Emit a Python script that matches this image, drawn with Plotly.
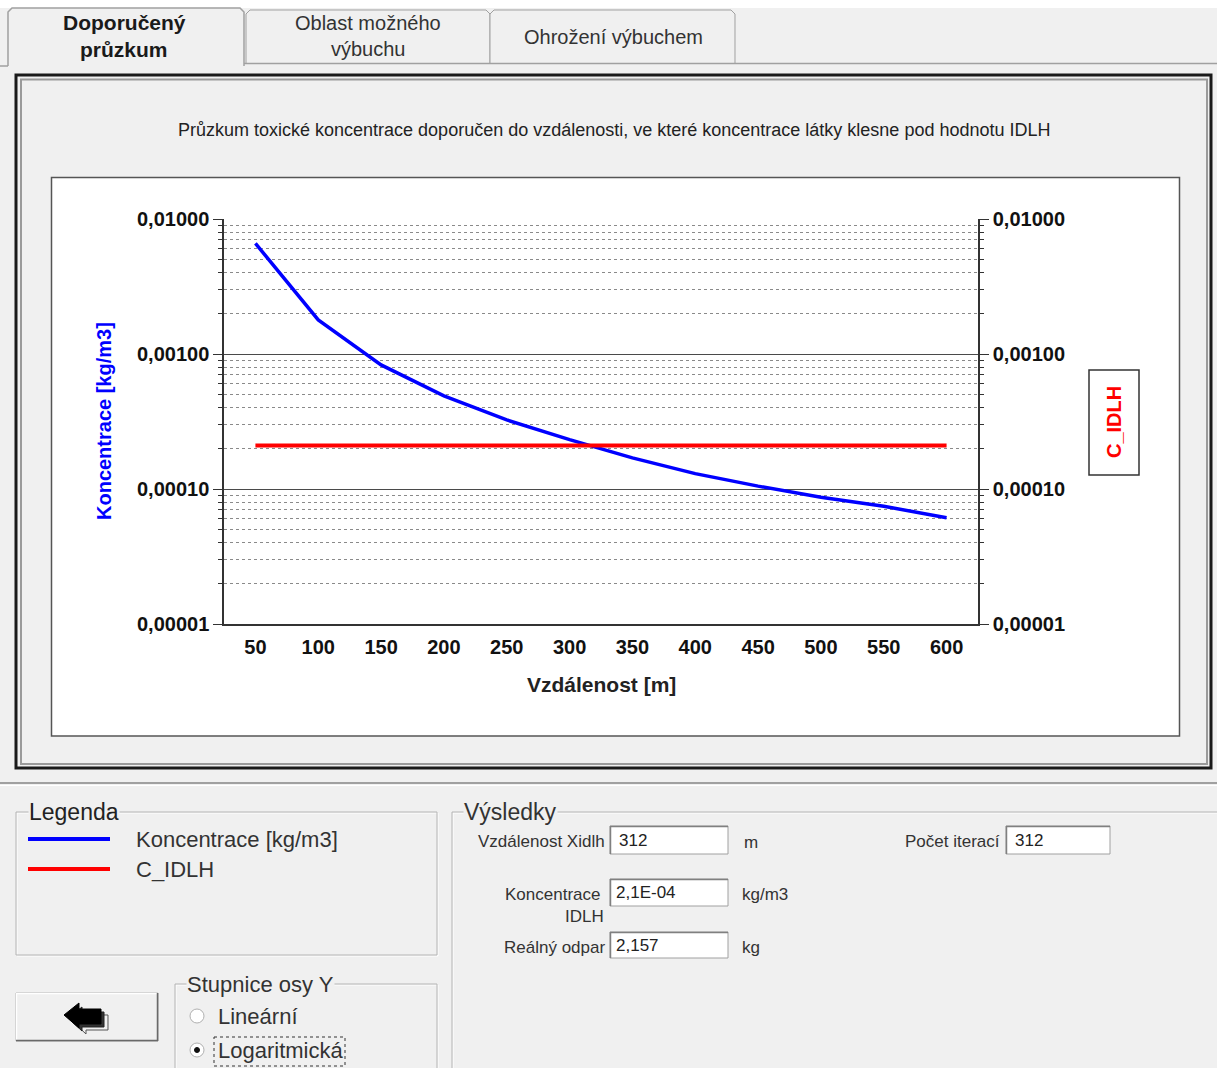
import plotly.graph_objects as go

# ---------------- data ----------------
distances = [50, 100, 150, 200, 250, 300, 350, 400, 450, 500, 550, 600]
koncentrace = [0.0066, 0.00179, 0.00083, 0.00049, 0.000325, 0.000232,
               0.000170, 0.000130, 0.000105, 0.0000870, 0.0000745, 0.0000612]
c_idlh = [0.00021, 0.00021, 0.00021, 0.00021, 0.00021, 0.00021,
          0.00021, 0.00021, 0.00021, 0.00021, 0.00021, 0.00021]
y_tickvals = [0.01, 0.001, 0.0001, 0.00001]
y_ticktext = ["0,01000", "0,00100", "0,00010", "0,00001"]
x_ticktext = [str(d) for d in distances]
minor_vals = [m * 10.0 ** e for e in (-5, -4, -3) for m in (2, 3, 4, 5, 6, 7, 8, 9)]

W, H = 1217, 1068
FONT = "Liberation Sans, Arial, sans-serif"


def X(p):
    return p / W


def Y(p):
    return 1 - p / H


fig = go.Figure()
fig.add_trace(go.Scatter(x=distances, y=koncentrace, mode="lines",
                         name="Koncentrace [kg/m3]",
                         line=dict(color="#0000ff", width=3.5), yaxis="y"))
fig.add_trace(go.Scatter(x=distances, y=c_idlh, mode="lines", name="C_IDLH",
                         line=dict(color="#ff0000", width=4), yaxis="y2"))

yax_common = dict(
    type="log", range=[-5, -2], tickvals=y_tickvals, ticktext=y_ticktext,
    tickfont=dict(family=FONT, size=20, color="#111", weight=700),
    ticks="outside", ticklen=9, tickcolor="#333", tickwidth=1,
    showline=True, linecolor="#333", linewidth=1.5,
    zeroline=False, fixedrange=True,
)

shapes = []
annotations = []


def rect(x0, y0, x1, y1, line="#a0a0a0", width=1, fill=None, dash=None, layer="below"):
    d = dict(type="rect", xref="paper", yref="paper", x0=X(x0), x1=X(x1), y0=Y(y0), y1=Y(y1),
             line=dict(color=line, width=width), layer=layer)
    if dash:
        d["line"]["dash"] = dash
    if fill:
        d["fillcolor"] = fill
    shapes.append(d)


def hline(x0, x1, y, color="#a0a0a0", width=1, layer="below"):
    shapes.append(dict(type="line", xref="paper", yref="paper", x0=X(x0), x1=X(x1), y0=Y(y), y1=Y(y),
                       line=dict(color=color, width=width), layer=layer))


def vline(x, y0, y1, color="#a0a0a0", width=1, layer="below"):
    shapes.append(dict(type="line", xref="paper", yref="paper", x0=X(x), x1=X(x), y0=Y(y0), y1=Y(y1),
                       line=dict(color=color, width=width), layer=layer))


def path(pts, fill=None, line="#a0a0a0", width=1, close=False, layer="below"):
    s = "M " + " L ".join(f"{X(a):.5f},{Y(b):.5f}" for a, b in pts)
    if close:
        s += " Z"
    d = dict(type="path", xref="paper", yref="paper", path=s,
             line=dict(color=line, width=width), layer=layer)
    if fill:
        d["fillcolor"] = fill
    shapes.append(d)


def text(x, y, t, size=22, color="#1a1a1a", bold=False, xanchor="center", yanchor="middle",
         angle=0, bg=None):
    a = dict(xref="paper", yref="paper", x=X(x), y=Y(y), text=t, showarrow=False,
             xanchor=xanchor, yanchor=yanchor, textangle=angle,
             font=dict(family=FONT, size=size, color=color, weight=700 if bold else 400))
    if bg:
        a["bgcolor"] = bg
        a["borderpad"] = 0
    annotations.append(a)


# top white strip
rect(0, 0, W, 8, line="#f0f0f0", width=0, fill="#ffffff")
# tabs
path([(246, 63), (246, 14), (250, 10), (486, 10), (490, 14), (490, 63)], fill="#f0f0f0")
path([(490, 63), (490, 14), (494, 10), (731, 10), (735, 14), (735, 63)], fill="#f0f0f0")
hline(244, W, 63.5, color="#a0a0a0", width=1.5)
hline(0, 8, 66, color="#a0a0a0", width=1.5)
path([(8, 66), (8, 12), (12, 8), (240, 8), (244, 12), (244, 66)], fill="#f0f0f0", line="#a0a0a0", width=1.5)
text(124, 23, "Doporučený", size=21, bold=True)
text(124, 49, "průzkum", size=21, bold=True)
text(368, 23, "Oblast možného", size=20, color="#333")
text(368, 49, "výbuchu", size=20, color="#333")
text(613, 37, "Ohrožení výbuchem", size=20, color="#333")

# chart frame
rect(16, 75, 1211, 768, line="#1a1a1a", width=3)
rect(21, 79.5, 1207, 764, line="#9a9a9a", width=2)
rect(51.5, 177.5, 1179.5, 736, line="#555555", width=1.5, fill="#ffffff")
text(614, 130, "Průzkum toxické koncentrace doporučen do vzdálenosti, ve které koncentrace látky klesne pod hodnotu IDLH",
     size=18, color="#222")

# axis titles
text(104, 421, "Koncentrace [kg/m3]", size=20, bold=True, color="#0000ff", angle=-90)
text(601, 684, "Vzdálenost [m]", size=21, bold=True, color="#222")
rect(1089, 370, 1139, 475, line="#333333", width=1.5, fill="#ffffff")
text(1114, 422, "C_IDLH", size=20, bold=True, color="#ff0000", angle=-90)

# separator
hline(0, W, 783, color="#a0a0a0", width=2)
hline(0, W, 785.5, color="#ffffff", width=1)

# group boxes (etched)
for (x0, y0, x1, y1) in [(16, 812, 437, 955), (452, 812, 1230, 1090), (175, 984, 437, 1090)]:
    rect(x0 + 1, y0 + 1, x1 + 1, y1 + 1, line="#ffffff", width=1)
    rect(x0, y0, x1, y1, line="#b4b4b4", width=1)

text(28, 812, "Legenda", size=23, color="#222", xanchor="left", bg="#f0f0f0")
text(463, 812, "Výsledky", size=23, color="#333", xanchor="left", bg="#f0f0f0")
text(186, 984, "Stupnice osy Y", size=22, color="#333", xanchor="left", bg="#f0f0f0")

# legend swatches
hline(28, 110, 839, color="#0000ff", width=4)
hline(28, 110, 869, color="#ff0000", width=4)
text(134, 839, "Koncentrace [kg/m3]", size=22, color="#333", xanchor="left")
text(134, 869, "C_IDLH", size=22, color="#333", xanchor="left")

# back button
rect(16, 993, 158, 1041, line="#a0a0a0", width=1, fill="#f0f0f0")
hline(16, 158, 993.5, color="#ffffff", width=1.5)
vline(16.5, 993, 1041, color="#ffffff", width=1.5)
hline(16, 158, 1040.5, color="#696969", width=1.5)
vline(157.5, 993, 1041, color="#696969", width=1.5)
path([(72, 1021), (86, 1010), (86, 1015), (108, 1015), (108, 1030), (86, 1030), (86, 1034)],
     line="#555", width=1, close=True, fill="#f0f0f0")
path([(68, 1018), (82, 1007), (82, 1012), (104, 1012), (104, 1027), (82, 1027), (82, 1031)],
     line="#222", width=1, close=True, fill="#333")
path([(64, 1015), (79, 1003), (79, 1009), (101, 1009), (101, 1024), (79, 1024), (79, 1028)],
     line="#000", width=1, close=True, fill="#000")

# radio buttons
shapes.append(dict(type="circle", xref="paper", yref="paper", x0=X(190), x1=X(204), y0=Y(1009), y1=Y(1023),
                   line=dict(color="#b0b0b0", width=1), fillcolor="#ffffff", layer="below"))
shapes.append(dict(type="circle", xref="paper", yref="paper", x0=X(190), x1=X(204), y0=Y(1043), y1=Y(1057),
                   line=dict(color="#b0b0b0", width=1), fillcolor="#ffffff", layer="below"))
shapes.append(dict(type="circle", xref="paper", yref="paper", x0=X(194.5), x1=X(199.5), y0=Y(1047.5), y1=Y(1052.5),
                   line=dict(color="#111", width=1), fillcolor="#111", layer="below"))
text(216, 1016, "Lineární", size=22, color="#333", xanchor="left")
text(216, 1050, "Logaritmická", size=22, color="#333", xanchor="left")
rect(214, 1037, 345, 1066, line="#333", width=1, dash="dot")

# results
small = 17
text(607, 841, "Vzdálenost Xidlh", size=small, color="#333", xanchor="right")
rect(610, 826, 728, 854, line="#a0a0a0", width=1, fill="#ffffff")
hline(610, 728, 826.5, color="#808080", width=1.5)
vline(610.5, 826, 854, color="#808080", width=1.5)
text(617, 840, "312", size=small, color="#222", xanchor="left")
text(742, 842, "m", size=small, color="#333", xanchor="left")

text(1002, 841, "Počet iterací", size=small, color="#333", xanchor="right")
rect(1006, 826, 1110, 854, line="#a0a0a0", width=1, fill="#ffffff")
hline(1006, 1110, 826.5, color="#808080", width=1.5)
vline(1006.5, 826, 854, color="#808080", width=1.5)
text(1013, 840, "312", size=small, color="#222", xanchor="left")

text(602, 894, "Koncentrace", size=small, color="#333", xanchor="right")
text(606, 916, "IDLH", size=small, color="#333", xanchor="right")
rect(610, 879, 728, 906, line="#a0a0a0", width=1, fill="#ffffff")
hline(610, 728, 879.5, color="#808080", width=1.5)
vline(610.5, 879, 906, color="#808080", width=1.5)
text(614, 892, "2,1E-04", size=small, color="#222", xanchor="left")
text(740, 894, "kg/m3", size=small, color="#333", xanchor="left")

text(607, 947, "Reálný odpar", size=small, color="#333", xanchor="right")
rect(610, 932, 728, 958, line="#a0a0a0", width=1, fill="#ffffff")
hline(610, 728, 932.5, color="#808080", width=1.5)
vline(610.5, 932, 958, color="#808080", width=1.5)
text(614, 945, "2,157", size=small, color="#222", xanchor="left")
text(740, 947, "kg", size=small, color="#333", xanchor="left")

fig.update_layout(
    autosize=True,
    margin=dict(l=0, r=0, t=0, b=0, pad=0, autoexpand=False),
    paper_bgcolor="#f0f0f0", plot_bgcolor="#ffffff",
    showlegend=False,
    xaxis=dict(domain=[X(224), X(978)], range=[25, 625], tickvals=distances, ticktext=x_ticktext,
               tickfont=dict(family=FONT, size=20, color="#111", weight=700),
               ticks="", ticklabelstandoff=4, showgrid=False, zeroline=False,
               showline=True, linecolor="#333", linewidth=1.5, mirror=False, fixedrange=True,
               automargin=False),
    yaxis=dict(domain=[Y(624), Y(219)], side="left", automargin=False,
               showgrid=True, gridcolor="#4a4a4a", gridwidth=1,
               minor=dict(tickvals=minor_vals, showgrid=True, gridcolor="#8a8a8a",
                          griddash="dot", gridwidth=1, ticks="outside", ticklen=4,
                          tickcolor="#333"),
               **yax_common),
    yaxis2=dict(domain=[Y(624), Y(219)], overlaying="y", side="right", anchor="x", automargin=False,
                showgrid=False,
                minor=dict(tickvals=minor_vals, showgrid=False, ticks="outside", ticklen=4,
                           tickcolor="#333"),
                **yax_common),
    shapes=shapes, annotations=annotations,
    hovermode=False,
)

post = ("document.documentElement.style.margin='0';document.documentElement.style.overflow='hidden';"
        "document.body.style.margin='0';document.body.style.overflow='hidden';"
        "var gd=document.getElementById('{plot_id}');"
        "gd.style.position='fixed';gd.style.left='0';gd.style.top='0';"
        "gd.style.width='100vw';gd.style.height='100vh';"
        "Plotly.Plots.resize(gd);")

fig.write_html("out.html", config=dict(displayModeBar=False, responsive=True),
               default_width="100%", default_height="100vh", post_script=post)
